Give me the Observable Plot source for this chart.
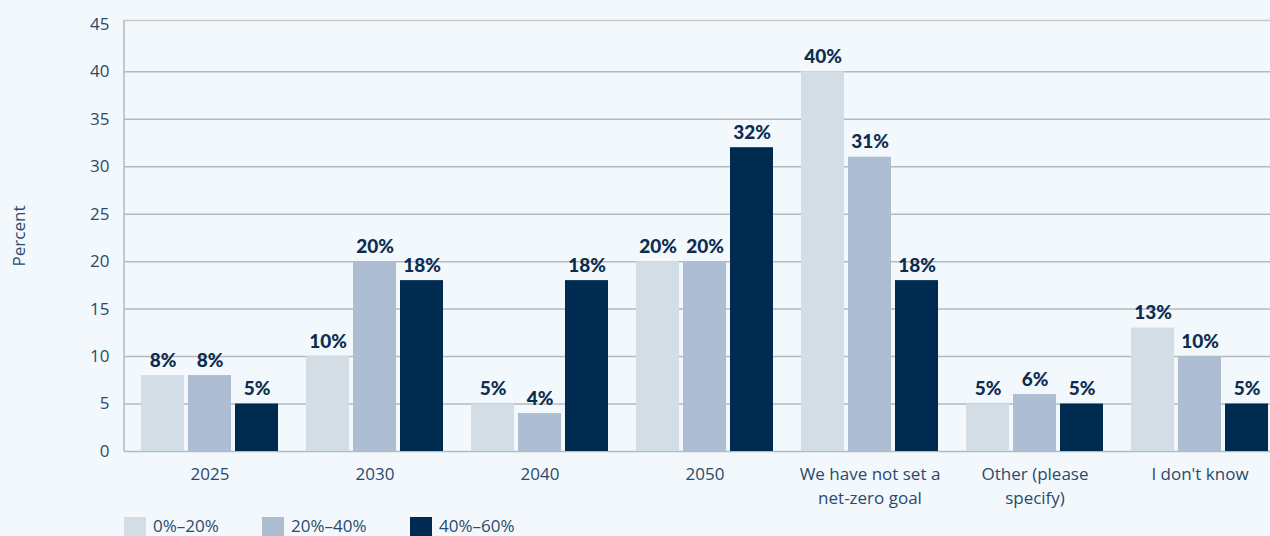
<!DOCTYPE html>
<html>
<head>
<meta charset="utf-8">
<script src="https://cdn.jsdelivr.net/npm/d3@7"></script>
<script src="https://cdn.jsdelivr.net/npm/@observablehq/plot@0.6"></script>
<style>
  html, body { margin: 0; padding: 0; background: #f2f8fc; overflow: hidden; }
  #chart svg { display: block; background: #f2f8fc; }
  .legend { position: relative; height: 19px; margin-top: 2px; font-family: "Open Sans", sans-serif; font-size: 17px; color: #2b4a6b; }
  .item { position: absolute; top: 0; display: flex; align-items: flex-start; }
  .sw { width: 22px; height: 22px; margin-right: 7px; }
  .item span { line-height: 18px; margin-top: 0px; }
</style>
</head>
<body>
<div id="chart"></div>
<div class="legend" id="legend"></div>
<script>
const categories = ["2025", "2030", "2040", "2050", "We have not set a net-zero goal", "Other (please specify)", "I don't know"];
const tickLabels = ["2025", "2030", "2040", "2050", "We have not set a\nnet-zero goal", "Other (please\nspecify)", "I don't know"];
const seriesNames = ["0%–20%", "20%–40%", "40%–60%"];
const seriesColors = ["#d3dde6", "#adbdd2", "#002b51"];
const s1 = [8, 10, 5, 20, 40, 5, 13];
const s2 = [8, 20, 4, 20, 31, 6, 10];
const s3 = [5, 18, 18, 32, 18, 5, 5];
const yTicks = [0, 5, 10, 15, 20, 25, 30, 35, 40, 45];
const gridValues = [0, 5, 10, 15, 20, 25, 30, 35, 40];
const yMax = 45.4;

const seriesValues = [s1, s2, s3];
const data = [];
seriesValues.forEach((vals, si) => vals.forEach((v, ci) => data.push({cat: categories[ci], series: seriesNames[si], si, value: v})));

const W = 1270, H = 515;
const step = 47;   // per-bar slot inside a category band
const barMarks = [];
const labelMarks = [];
seriesNames.forEach((name, si) => {
  const d = data.filter(r => r.si === si);
  barMarks.push(Plot.barY(d, {
    x: "cat", y: "value", fill: seriesColors[si],
    insetLeft: si * step, insetRight: (2 - si) * step
  }));
  labelMarks.push(Plot.text(d, {
    x: "cat", y: "value", text: r => r.value + "%",
    dx: (si - 1) * step, dy: -15,
    fill: "#0d2d50", fontSize: 19, fontWeight: 900,
    fontFamily: "Lato, 'Open Sans', sans-serif"
  }));
});

const chart = Plot.plot({
  width: W, height: H,
  marginTop: 20, marginBottom: 64, marginLeft: 124, marginRight: 0,
  style: { background: "#f2f8fc", fontFamily: "'Open Sans', sans-serif", fontSize: "16px", color: "#2b4a6b", overflow: "hidden" },
  x: { type: "band", domain: categories, range: [124, 1284], paddingInner: 0.17, paddingOuter: 0.097, axis: null },
  y: { domain: [0, yMax], axis: null },
  marks: [
    Plot.ruleY(gridValues, { stroke: "#b5babf", strokeWidth: 1.5 }),
    Plot.ruleY([yMax], { stroke: "#c6cacd", strokeWidth: 1.5 }),
    ...barMarks,
    Plot.axisY({ ticks: yTicks, tickSize: 0, tickPadding: 15, fontSize: 17, fill: "#2b4a6b",
      label: "Percent", labelAnchor: "center", labelArrow: "none", labelOffset: 112 }),
    Plot.axisX({ tickSize: 0, tickPadding: 12, fontSize: 17, fill: "#2b4a6b", label: null, lineHeight: 1.4,
      tickFormat: c => tickLabels[categories.indexOf(c)] }),
    ...labelMarks
  ]
});
document.getElementById("chart").appendChild(chart);
const svg = d3.select(chart);
// left axis line
svg.append("line").attr("x1", 124).attr("x2", 124).attr("y1", 20).attr("y2", 451).attr("stroke", "#b5babf").attr("stroke-width", 1.5);

const legend = document.getElementById("legend");
const offsets = [124, 262, 410];
seriesNames.forEach((name, i) => {
  const it = document.createElement("div");
  it.className = "item";
  it.style.left = offsets[i] + "px";
  it.innerHTML = `<div class="sw" style="background:${seriesColors[i]}"></div><span>${name}</span>`;
  legend.appendChild(it);
});
</script>
</body>
</html>
